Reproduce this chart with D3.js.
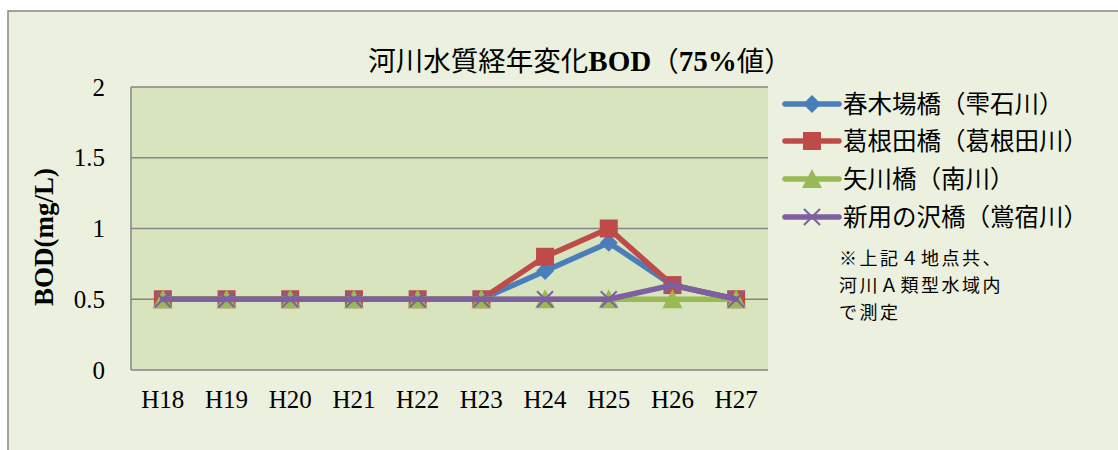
<!DOCTYPE html>
<html><head><meta charset="utf-8">
<script src="https://cdn.jsdelivr.net/npm/d3@7"></script>
<style>body{margin:0;background:#fff}svg{display:block}</style>
</head><body>
<script>
const categories = ["H18","H19","H20","H21","H22","H23","H24","H25","H26","H27"];
const seriesNames = ["春木場橋（雫石川）","葛根田橋（葛根田川）","矢川橋（南川）","新用の沢橋（鴬宿川）"];
const harukiba = [0.5,0.5,0.5,0.5,0.5,0.5,0.7,0.9,0.6,0.5];
const kakkonda = [0.5,0.5,0.5,0.5,0.5,0.5,0.8,1.0,0.6,0.5];
const yagawa   = [0.5,0.5,0.5,0.5,0.5,0.5,0.5,0.5,0.5,0.5];
const shinyou  = [0.5,0.5,0.5,0.5,0.5,0.5,0.5,0.5,0.6,0.5];
const yTicks = [0,0.5,1,1.5,2];
const yTickLabels = ["0","0.5","1","1.5","2"];
const colors = ["#4A7EBB","#BE4B48","#98B954","#7D60A0"];
const markers = ["diamond","square","triangle","x"];
const note = ["※上記４地点共、","河川Ａ類型水域内","で測定"];

const W=1118,H=450;
const svg=d3.select("body").append("svg").attr("width",W).attr("height",H);
svg.append("rect").attr("x",8).attr("y",11).attr("width",W+10).attr("height",H+10)
  .attr("fill","#EBF1DE").attr("stroke","#868686").attr("stroke-width",1.5);

const serif="'Liberation Serif','DejaVu Serif',serif";
const jp="'Noto Sans CJK JP','Noto Sans CJK SC',sans-serif";
const L=131,R=768,T=87,B=370;
const x=d3.scaleBand().domain(categories).range([L,R]);
const y=d3.scaleLinear().domain([0,2]).range([B,T]);

svg.append("rect").attr("x",L).attr("y",T).attr("width",R-L).attr("height",B-T).attr("fill","#D7E4BD");
svg.append("g").selectAll("line").data(yTicks.slice(1)).join("line")
  .attr("x1",L).attr("x2",R).attr("y1",d=>y(d)).attr("y2",d=>y(d))
  .attr("stroke","#868686").attr("stroke-width",1.5);
svg.append("line").attr("x1",L).attr("x2",L).attr("y1",T).attr("y2",B).attr("stroke","#868686").attr("stroke-width",1.5);
svg.append("line").attr("x1",L).attr("x2",R).attr("y1",B).attr("y2",B).attr("stroke","#868686").attr("stroke-width",1.5);

const yAxis=svg.append("g").attr("transform",`translate(${L},0)`)
  .call(d3.axisLeft(y).tickValues(yTicks).tickFormat((d,i)=>yTickLabels[i]).tickSize(0).tickPadding(26));
yAxis.select(".domain").remove();
yAxis.selectAll("text").attr("font-family",serif).attr("font-size",25).attr("fill","#000");

const xAxis=svg.append("g").attr("transform",`translate(0,${B})`)
  .call(d3.axisBottom(x).tickSize(0).tickPadding(20));
xAxis.select(".domain").remove();
xAxis.selectAll("text").attr("font-family",serif).attr("font-size",25).attr("fill","#000");

svg.append("text").attr("x",580).attr("y",71).attr("text-anchor","middle")
  .attr("font-size",27.5).attr("fill","#000")
  .call(t=>{
    t.append("tspan").attr("font-family",jp).text("河川水質経年変化");
    t.append("tspan").attr("font-family",serif).attr("font-weight","bold").attr("font-size",29).text("BOD");
    t.append("tspan").attr("font-family",jp).text("（");
    t.append("tspan").attr("font-family",serif).attr("font-weight","bold").attr("font-size",29).text("75%");
    t.append("tspan").attr("font-family",jp).text("値）");
  });

svg.append("text").attr("transform",`translate(53,237) rotate(-90)`).attr("text-anchor","middle")
  .attr("font-family",serif).attr("font-weight","bold").attr("font-size",27).text("BOD(mg/L)");

function drawMarker(g,type,color,cx,cy){
  if(type==="diamond"){
    g.append("path").attr("d",`M${cx},${cy-9}L${cx+9},${cy}L${cx},${cy+9}L${cx-9},${cy}Z`).attr("fill",color);
  }else if(type==="square"){
    g.append("rect").attr("x",cx-9).attr("y",cy-9).attr("width",18).attr("height",18).attr("fill",color);
  }else if(type==="triangle"){
    g.append("path").attr("d",`M${cx},${cy-10}L${cx+10},${cy+9}L${cx-10},${cy+9}Z`).attr("fill",color);
  }else{
    g.append("path").attr("d",`M${cx-8},${cy-8}L${cx+8},${cy+8}M${cx-8},${cy+8}L${cx+8},${cy-8}`)
      .attr("stroke",color).attr("stroke-width",2);
  }
}

const allSeries=[harukiba,kakkonda,yagawa,shinyou];
const line=d3.line().x((d,i)=>x(categories[i])+x.bandwidth()/2).y(d=>y(d));
allSeries.forEach((s,si)=>{
  const g=svg.append("g");
  g.append("path").datum(s).attr("d",line).attr("fill","none")
    .attr("stroke",colors[si]).attr("stroke-width",5.5).attr("stroke-linejoin","round").attr("stroke-linecap","round");
  s.forEach((v,i)=>drawMarker(g,markers[si],colors[si],x(categories[i])+x.bandwidth()/2,y(v)));
});

const ly=[104,141,179,217];
seriesNames.forEach((n,i)=>{
  const g=svg.append("g");
  g.append("line").attr("x1",785).attr("x2",839).attr("y1",ly[i]).attr("y2",ly[i])
    .attr("stroke",colors[i]).attr("stroke-width",5.5).attr("stroke-linecap","round");
  drawMarker(g,markers[i],colors[i],812,ly[i]);
  g.append("text").attr("x",843).attr("y",ly[i]+9).attr("font-family",jp).attr("font-size",24.5).attr("fill","#000").text(n);
});
note.forEach((t,i)=>{
  svg.append("text").attr("x",839).attr("y",265+i*27).attr("font-family",jp).attr("font-size",18).attr("letter-spacing",2.5).attr("fill","#000").text(t);
});
</script>
</body></html>
